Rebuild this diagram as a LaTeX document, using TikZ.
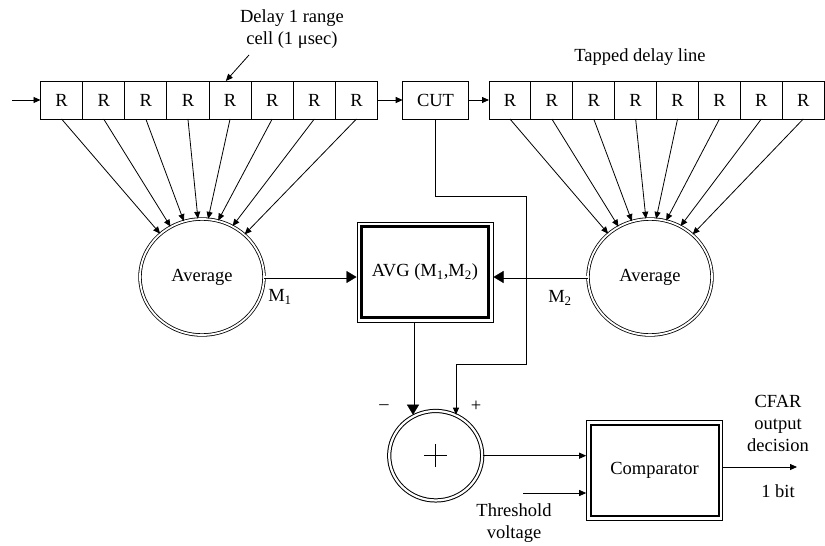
\documentclass[tikz,border=0pt]{standalone}
\usepackage{fontspec}
\setmainfont{Liberation Serif}
\usetikzlibrary{arrows.meta,shapes.geometric,calc,decorations.markings}
\begin{document}
\begin{tikzpicture}[x=1pt,y=-1pt,
  every node/.style={font=\fontsize{18.5}{22}\selectfont},
  cell/.style={draw, line width=0.9pt, minimum width=42.1pt, minimum height=38pt, inner sep=0pt, outer sep=0pt},
  avgc/.style={ellipse, draw, double, double distance=1.8pt, line width=0.8pt, minimum width=124pt, minimum height=116pt, inner sep=0pt},
  sumc/.style={ellipse, draw, double, double distance=2.2pt, line width=1pt, minimum width=93pt, minimum height=89.5pt, inner sep=0pt},
  obox/.style={draw, line width=1pt, inner sep=0pt},
  ibox/.style={draw, line width=2.3pt, inner sep=0pt},
  arr/.style={line width=0.8pt, -{Triangle[length=7pt,width=6pt]}},
  dblline/.style={double, double distance=1.6pt, line width=0.7pt, shorten >=8pt},
  dbltip/.style={decorate, decoration={markings, mark=at position 1 with {\arrow{Triangle[length=10pt,width=12pt]}}}},
  lbl/.style={inner sep=0pt, align=center}
]
\useasboundingbox (0,0) rectangle (825,546);

% delay lines
\foreach \i in {1,...,8} {
  \node[cell] (L\i) at ({40.5+42.125*(\i-0.5)},100) {R};
  \node[cell, minimum width=41.9pt] (R\i) at ({489+41.9*(\i-0.5)},100) {R};
}
\node[cell, minimum width=65.6pt] (cut) at (435.5,100) {CUT};

% averages
\node[avgc] (avgL) at (202,277) {Average};
\node[avgc] (avgR) at (650,277) {Average};

% AVG box
\node[obox, minimum width=136pt, minimum height=100pt] (avg) at (425,272) {};
\node[ibox, minimum width=127pt, minimum height=91pt] (avgin) at (avg) {AVG (M\textsubscript{1},M\textsubscript{2})};

% summer
\node[sumc] (sum) at (435.7,455.7) {};
\draw[line width=0.6pt] ($(sum.center)+(-11.5,0)$) -- ($(sum.center)+(11.5,0)$);
\draw[line width=0.6pt] ($(sum.center)+(0,-11.5)$) -- ($(sum.center)+(0,11.5)$);

% comparator
\node[obox, minimum width=135.6pt, minimum height=100pt] (comp) at (654.5,470.7) {};
\node[ibox, line width=2pt, minimum width=128pt, minimum height=90.7pt] (compin) at (comp) {Comparator};

% texts
\node[lbl] (dtxt) at (292,29) {Delay 1 range\\cell (1 μsec)};
\node[lbl] (ttxt) at (640,57) {Tapped delay line};
\node[lbl] (m1) at (280,297) {M\textsubscript{1}};
\node[lbl] (m2) at (560,298) {M\textsubscript{2}};
\node[lbl] (minus) at (384,407) {--};
\node[lbl] (plus) at (476,406) {+};
\node[lbl] (thr) at (514,523) {Threshold\\voltage};
\node[lbl] (cfar) at (778,423) {CFAR\\output\\decision};
\node[lbl] (bit) at (778,491) {1 bit};

% connectors
\coordinate (in) at (12,100);
\draw[arr] (in) -- (L1.west);
\draw[arr] (L8.east) -- (cut.west);
\draw[arr] (cut.east) -- (R1.west);
\coordinate (dl) at (249,55);
\draw[arr] (dl) -- ($(L5.north west)!0.4!(L5.north east)$);

\foreach \i/\a in {1/134,2/122,3/108,4/94,5/84,6/74,7/59,8/45} {
  \draw[arr] (L\i.south) -- (avgL.\a);
  \draw[arr] (R\i.south) -- (avgR.\a);
}

\draw[dblline] (avgL.east) -- (avgL.east -| avg.west);
\draw[dbltip] (avgL.east) -- (avgL.east -| avg.west);
\draw[dblline] (avgR.west) -- (avgR.west -| avg.east);
\draw[dbltip] (avgR.west) -- (avgR.west -| avg.east);

\coordinate (k1) at (526,196);
\coordinate (k2) at (456,364);
\draw[arr] (cut.south) |- (k1) |- (k2) -- (k2 |- sum.64);

\coordinate (d1) at ($(avg.south)+(-12,0)$);
\draw[dblline] (d1) -- (d1 |- sum.116);
\draw[dbltip] (d1) -- (d1 |- sum.116);

\draw[arr] (sum.east) -- (sum.east -| comp.west);
\coordinate (th) at (523,493);
\draw[arr] (th) -- (th -| comp.west);
\coordinate (out) at (797,467);
\draw[arr] (out -| comp.east) -- (out);
\end{tikzpicture}
\end{document}
